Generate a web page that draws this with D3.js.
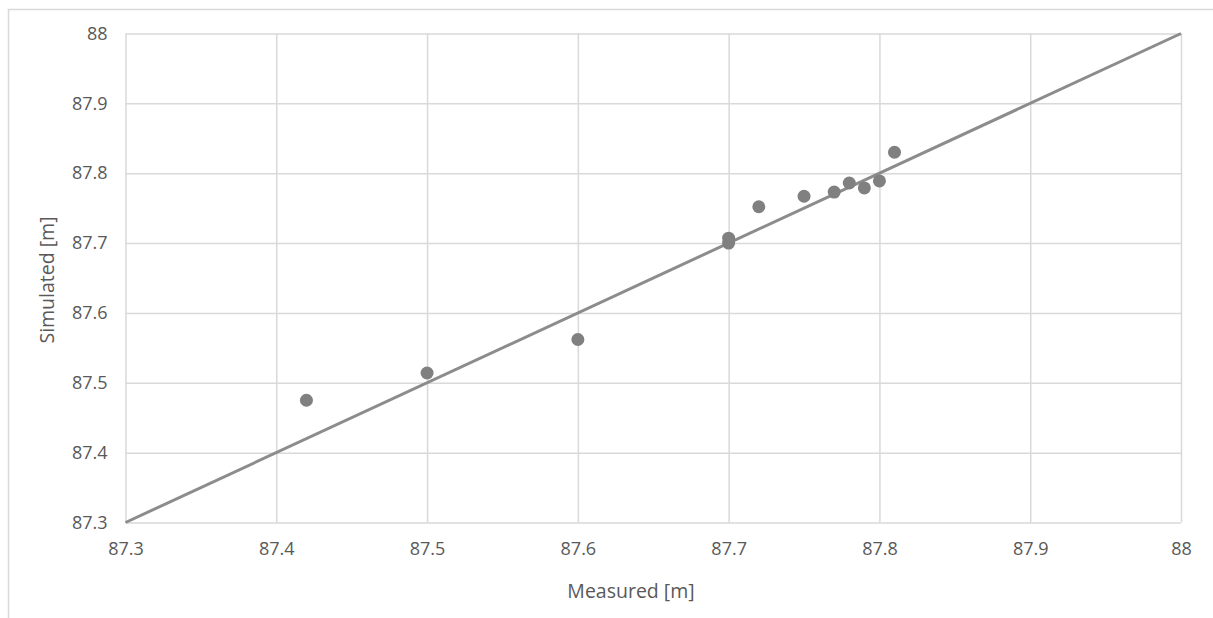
<!DOCTYPE html>
<html><head><meta charset="utf-8">
<script src="https://cdn.jsdelivr.net/npm/d3@7"></script>
<style>body{margin:0;background:#fff;} svg{display:block;} text{font-family:"Open Sans","Noto Sans",sans-serif;}</style>
</head><body>
<svg id="c" width="1213" height="618"></svg>
<script>
const measured  = [87.42, 87.50, 87.60, 87.70, 87.70, 87.72, 87.75, 87.77, 87.78, 87.79, 87.80, 87.81];
const simulated = [87.475, 87.514, 87.562, 87.707, 87.700, 87.752, 87.767, 87.773, 87.786, 87.779, 87.789, 87.830];
const tickValues = [87.3, 87.4, 87.5, 87.6, 87.7, 87.8, 87.9, 88];
const tickLabels = ["87.3", "87.4", "87.5", "87.6", "87.7", "87.8", "87.9", "88"];
const lineEnds = [87.3, 88];

const svg = d3.select("#c");
const L = 125.5, R = 1181, T = 33.5, B = 522.5;
const x = d3.scaleLinear().domain([87.3, 88]).range([L, R]);
const y = d3.scaleLinear().domain([87.3, 88]).range([B, T]);

svg.append("rect").attr("x", 8.5).attr("y", 9.5).attr("width", 1300).attr("height", 700)
  .attr("fill", "none").attr("stroke", "#d9d9d9").attr("stroke-width", 1.5);

const fmt = (d, i) => tickLabels[i];
const gx = svg.append("g").attr("transform", `translate(0,${B})`)
  .call(d3.axisBottom(x).tickValues(tickValues).tickFormat(fmt).tickSize(-(B - T)).tickPadding(20));
const gy = svg.append("g").attr("transform", `translate(${L},0)`)
  .call(d3.axisLeft(y).tickValues(tickValues).tickFormat(fmt).tickSize(-(R - L)).tickPadding(18));
[gx, gy].forEach(g => {
  g.select(".domain").remove();
  g.selectAll("line").attr("stroke", "#d9d9d9").attr("stroke-width", 1.5);
  g.selectAll("text").attr("fill", "#595959").style("font-size", "18px");
});

svg.append("line")
  .attr("x1", x(lineEnds[0])).attr("y1", y(lineEnds[0]))
  .attr("x2", x(lineEnds[1])).attr("y2", y(lineEnds[1]))
  .attr("stroke", "#8c8c8c").attr("stroke-width", 3);

svg.append("g").selectAll("circle").data(measured).join("circle")
  .attr("cx", d => x(d)).attr("cy", (d, i) => y(simulated[i])).attr("r", 6.5)
  .attr("fill", "#808080");

svg.append("text").attr("x", 631).attr("y", 598).attr("text-anchor", "middle")
  .attr("fill", "#595959").style("font-size", "19.5px").text("Measured [m]");
svg.append("text").attr("transform", `translate(54,${(T + B) / 2 + 2}) rotate(-90)`).attr("text-anchor", "middle")
  .attr("fill", "#595959").style("font-size", "19.5px").text("Simulated [m]");
</script>
</body></html>
